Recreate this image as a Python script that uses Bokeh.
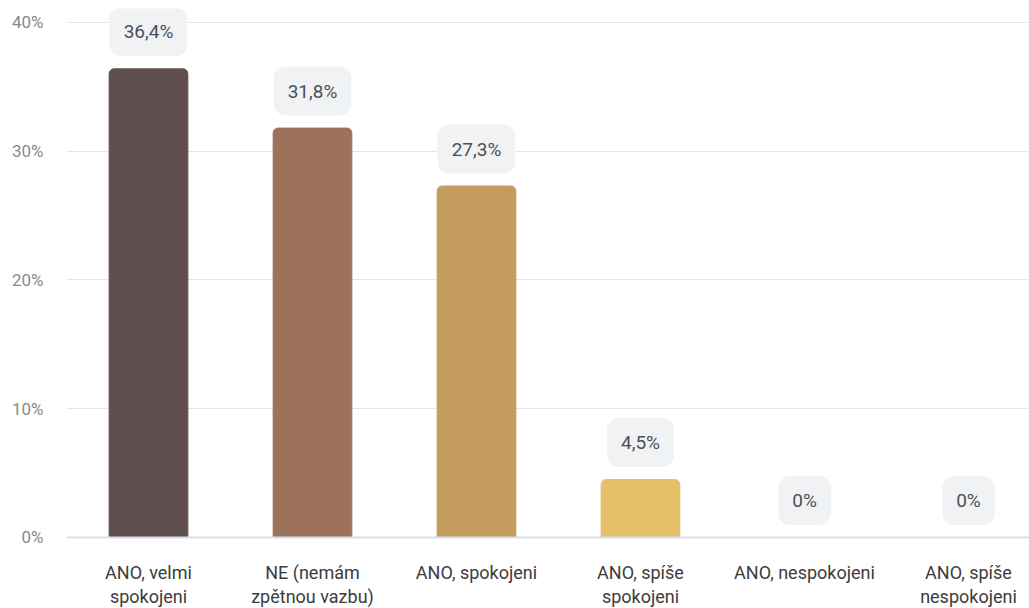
from bokeh.plotting import figure
from bokeh.models import Range1d, FixedTicker, PrintfTickFormatter, ColumnDataSource, Span
from bokeh.core.properties import value
from bokeh.embed import file_html
from bokeh.resources import INLINE

categories = ["ANO, velmi\nspokojeni", "NE (nemám\nzpětnou vazbu)", "ANO, spokojeni",
              "ANO, spíše\nspokojeni", "ANO, nespokojeni", "ANO, spíše\nnespokojeni"]
values = [36.4, 31.8, 27.3, 4.5, 0, 0]
value_labels = ["36,4%", "31,8%", "27,3%", "4,5%", "0%", "0%"]
colors = ["#604f4e", "#9c725a", "#c49d5e", "#e5bf6a", "#e5bf6a", "#e5bf6a"]
y_ticks = [0, 10, 20, 30, 40]

xs = [i + 0.5 for i in range(len(categories))]
src = ColumnDataSource(dict(x=xs, top=values, color=colors, label=value_labels,
                            cat=categories, base=[0] * len(categories)))

# frame spans the whole height; the area below 0 holds the category labels
p = figure(width=1029, height=608, output_backend="svg", toolbar_location=None,
           x_range=Range1d(0, 5.872), y_range=Range1d(-5.515, 41.087),
           min_border_left=66, min_border_right=0, min_border_top=8, min_border_bottom=0)
p.outline_line_color = None
p.background_fill_color = "white"
p.border_fill_color = "white"

p.xaxis.visible = False
p.xgrid.visible = False
p.ygrid.grid_line_color = "#e6e6e6"
p.ygrid.grid_line_width = 1

p.add_layout(Span(location=0, dimension="width", line_color="#d9ddf1", line_width=2))

p.vbar(x="x", top="top", width=0.48, bottom=0, color="color", source=src,
       border_radius=(5, 5, 0, 0))

p.text(x="x", y="top", text="label", source=src, y_offset=-37,
       text_align="center", text_baseline="middle",
       text_font=value("Roboto"), text_font_size="19px", text_color="#4a505b",
       background_fill_color="#f0f2f3", padding=(14, 13), border_radius=12)

# category labels under the baseline
p.text(x="x", y="base", text="cat", source=src, y_offset=25,
       text_align="center", text_baseline="top",
       text_font=value("Roboto"), text_font_size="18px",
       text_line_height=1.1, text_color="#3c3c3c")

p.yaxis.ticker = FixedTicker(ticks=y_ticks)
p.yaxis.formatter = PrintfTickFormatter(format="%d%%")
p.yaxis.axis_line_color = None
p.yaxis.major_tick_line_color = None
p.yaxis.minor_tick_line_color = None
p.yaxis.major_tick_out = 0
p.yaxis.major_tick_in = 0
p.yaxis.major_label_standoff = 23
p.yaxis.major_label_text_font = "Roboto"
p.yaxis.major_label_text_font_size = "17px"
p.yaxis.major_label_text_color = "#8a8a8a"

open("out.html", "w").write(file_html(p, INLINE))
